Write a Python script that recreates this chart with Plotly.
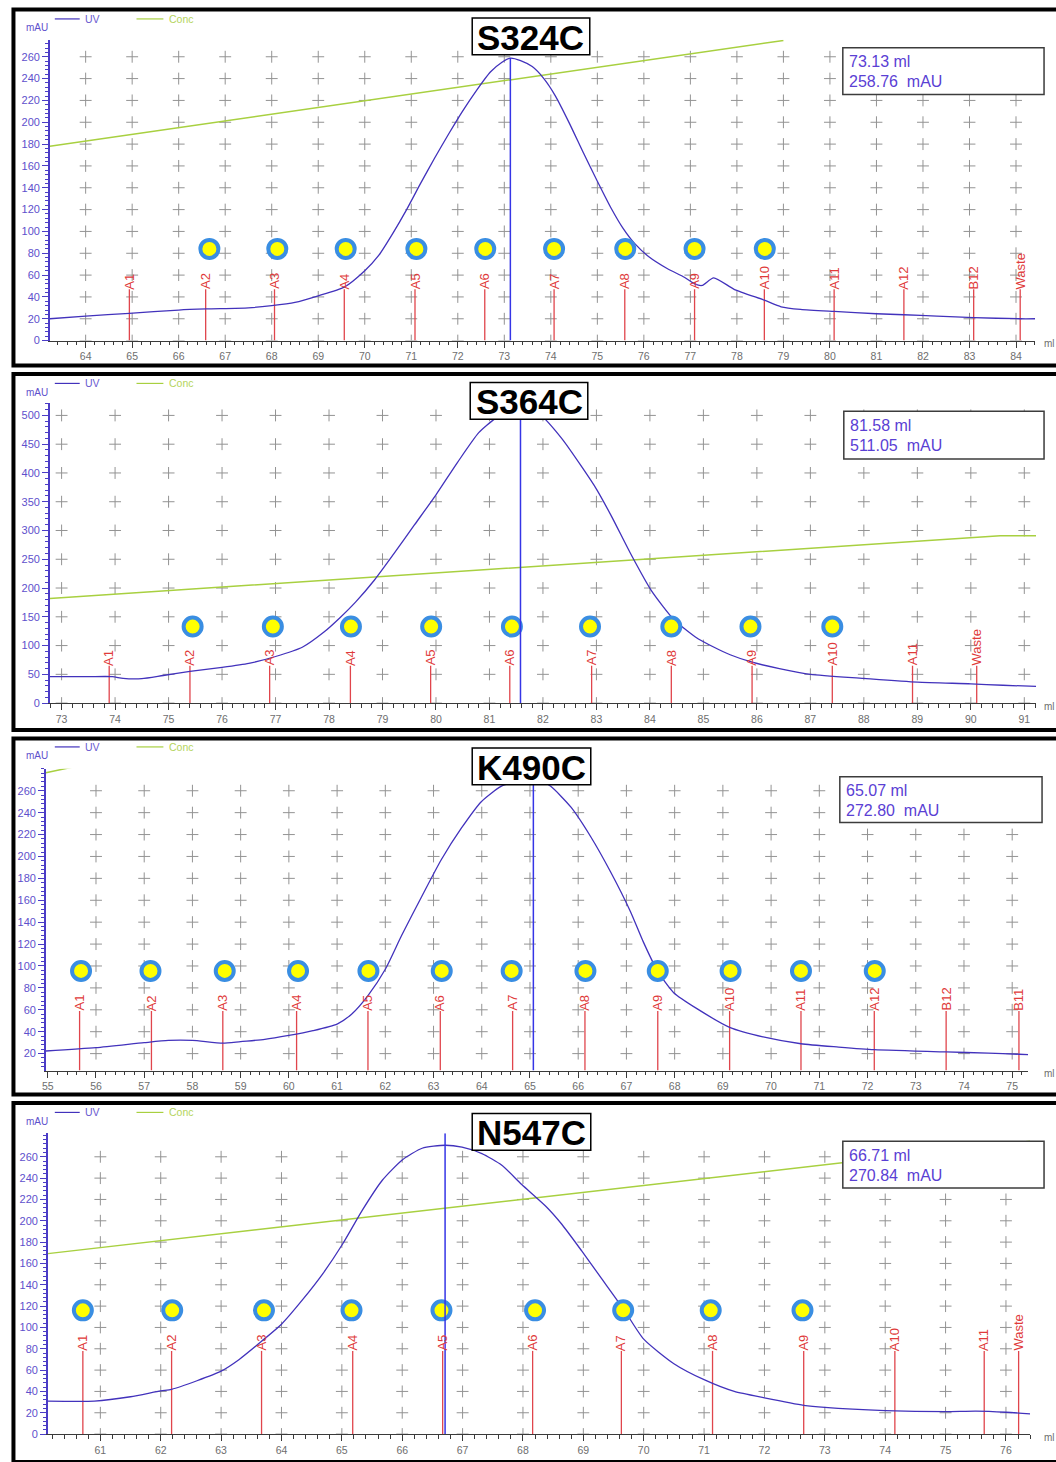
import plotly.graph_objects as go

W, H = 1056, 1462
FONT = "Liberation Sans, Arial, sans-serif"

# ---------------- S324C ----------------
s324_uv_ml = [63.23, 64.0, 64.94, 66.0, 66.6, 67.5, 68.0, 68.5, 69.0, 69.56, 70.0, 70.3, 70.6, 70.9,
              71.2, 71.5, 71.8, 72.1, 72.4, 72.7, 72.95, 73.13, 73.35, 73.6, 73.85, 74.1, 74.4, 74.7,
              75.0, 75.3, 75.55, 75.8, 76.1, 76.5, 76.87, 77.09, 77.25, 77.5, 77.94, 78.59, 78.95,
              79.37, 80.09, 81.0, 81.59, 82.3, 83.09, 84.09, 84.41]
s324_uv_mau = [20, 22.5, 25, 28, 29, 30, 32, 35, 41, 49, 64, 78, 98, 120,
               144, 167, 189, 210, 229, 246, 255, 258.76, 256.5, 251, 240, 224, 199, 172,
               146, 121, 103, 89, 77, 66, 58, 52, 50.5, 57.5, 47, 37, 31,
               28.6, 26.7, 24.6, 23.7, 22.5, 21, 20, 20]
s324_conc_ml = [63.23, 79.0]
s324_conc = [178, 275]
s324_frac_ml = [64.94, 66.58, 68.06, 69.56, 71.08, 72.58, 74.07, 75.59, 77.09, 78.59, 80.09, 81.59, 83.09, 84.09]
s324_frac = ["A1", "A2", "A3", "A4", "A5", "A6", "A7", "A8", "A9", "A10", "A11", "A12", "B12", "Waste"]
s324_pool_ml = [66.66, 68.12, 69.59, 71.11, 72.59, 74.07, 75.6, 77.09, 78.6]
s324_pool_mau = 84
s324_peak = (73.13, 258.76)

# ---------------- S364C ----------------
s364_uv_ml = [72.78, 73.5, 73.95, 74.15, 74.5, 74.9, 75.4, 76.0, 76.5, 77.0, 77.5, 77.9, 78.2, 78.5,
              78.85, 79.2, 79.6, 80.0, 80.4, 80.8, 81.1, 81.35, 81.58, 81.98, 82.35, 82.73, 83.0, 83.28,
              83.66, 84.03, 84.45, 84.85, 85.2, 85.5, 85.91, 86.42, 87.0, 88.0, 89.0, 90.0, 90.6, 91.22]
s364_uv_mau = [46, 46, 46, 43, 42.5, 48, 55, 62, 69, 81, 97, 123, 148, 176,
               214, 258, 310, 362, 418, 470, 494, 506, 511.05, 498, 460, 410, 372, 325,
               256, 195, 145, 115, 97, 84, 71, 60, 50, 43, 36.5, 33.5, 31, 29]
s364_conc_ml = [72.78, 90.55, 91.22]
s364_conc = [182, 291, 291]
s364_frac_ml = [73.89, 75.40, 76.89, 78.40, 79.90, 81.38, 82.91, 84.40, 85.91, 87.41, 88.91, 90.11]
s364_frac = ["A1", "A2", "A3", "A4", "A5", "A6", "A7", "A8", "A9", "A10", "A11", "Waste"]
s364_pool_ml = [75.45, 76.95, 78.41, 79.91, 81.42, 82.88, 84.4, 85.88, 87.41]
s364_pool_mau = 133
s364_peak = (81.58, 511.05)

# ---------------- K490C ----------------
k490_uv_ml = [54.96, 56.0, 57.0, 57.5, 58.0, 58.63, 59.0, 59.5, 60.0, 60.5, 61.0, 61.3, 61.64, 62.0,
              62.34, 62.75, 63.16, 63.58, 63.99, 64.4, 64.81, 65.07, 65.43, 65.85, 66.26, 66.67,
              67.08, 67.35, 67.65, 67.98, 68.47, 69.14, 69.86, 70.62, 71.4, 72.14, 73.63, 74.5,
              75.14, 75.33]
k490_uv_mau = [22.4, 25.4, 30, 32, 32, 29.5, 31, 33, 36.6, 41, 47, 56, 73, 97,
               128, 163, 197, 226, 250, 264, 270, 272.8, 264, 245, 218, 186,
               150, 122, 95, 75.6, 60.8, 44, 35, 29, 26, 23.6, 21.5, 20.5,
               19.4, 19]
k490_conc_ml = [54.96, 56.0]
k490_conc = [276.5, 286]
k490_frac_ml = [55.66, 57.15, 58.63, 60.16, 61.64, 63.14, 64.64, 66.14, 67.65, 69.14, 70.62, 72.14, 73.63, 75.14]
k490_frac = ["A1", "A2", "A3", "A4", "A5", "A6", "A7", "A8", "A9", "A10", "A11", "A12", "B12", "B11"]
k490_pool_ml = [55.69, 57.13, 58.67, 60.19, 61.65, 63.17, 64.62, 66.15, 67.65, 69.16, 70.62, 72.15]
k490_pool_mau = 95.5
k490_peak = (65.07, 272.80)

# ---------------- N547C ----------------
n547_uv_ml = [60.13, 60.9, 61.5, 62.0, 62.18, 62.6, 63.0, 63.3, 63.67, 64.0, 64.35, 64.68, 65.01,
              65.34, 65.67, 66.0, 66.33, 66.71, 66.99, 67.32, 67.65, 67.98, 68.39, 68.64, 68.97,
              69.3, 69.68, 70.0, 70.5, 71.0, 71.5, 72.0, 72.65, 73.0, 74.0, 75.0, 75.5, 76.0, 76.4]
n547_uv_mau = [31, 31, 35, 40.5, 42, 50, 59, 70, 87, 103, 126, 150, 178,
               210, 238, 257, 268, 270.84, 269, 263, 252, 234, 213, 197, 172,
               146, 116, 89, 66, 51, 40, 34, 27, 25, 22, 21, 21.5, 20.5, 19]
n547_conc_ml = [60.13, 76.4]
n547_conc = [169.2, 274.6]
n547_frac_ml = [60.71, 62.18, 63.67, 65.18, 66.67, 68.16, 69.63, 71.14, 72.65, 74.16, 75.64, 76.21]
n547_frac = ["A1", "A2", "A3", "A4", "A5", "A6", "A7", "A8", "A9", "A10", "A11", "Waste"]
n547_pool_ml = [60.71, 62.19, 63.71, 65.16, 66.65, 68.2, 69.66, 71.11, 72.63]
n547_pool_mau = 116
n547_peak = (66.71, 270.84)

# ---------------- styling ----------------
UV_COLOR = "#4232bc"
CONC_COLOR = "#a8d040"
FRAC_COLOR = "#e0454c"
FRAC_TEXT = "#e03a3a"
CURSOR_COLOR = "#3535e6"
YAX_COLOR = "#4b3cc6"
YTXT_COLOR = "#5e50cc"
XTXT_COLOR = "#6e6e6e"
INFO_COLOR = "#5a40d4"

# page layout of each chromatogram panel (pixels)
panels = [
    dict(name="S324C", uv=(s324_uv_ml, s324_uv_mau), conc=(s324_conc_ml, s324_conc),
         frac=(s324_frac_ml, s324_frac), pool=(s324_pool_ml, s324_pool_mau), peak=s324_peak,
         cursor_top=s324_peak[1], frac_top=47,
         border=(9.5, 9.5, 1062, 367), plot=(46, 40, 1035, 342), xr=(63.23, 84.41), yr=(0, 275.5),
         ydt=20, ymin=4, ygrid_max=260, info=(842, 48, 1044, 95), title=(470, 18, 588, 55), legend_y=19),
    dict(name="S364C", uv=(s364_uv_ml, s364_uv_mau), conc=(s364_conc_ml, s364_conc),
         frac=(s364_frac_ml, s364_frac), pool=(s364_pool_ml, s364_pool_mau), peak=s364_peak,
         cursor_top=s364_peak[1], frac_top=65,
         border=(9.5, 375.5, 1062, 733), plot=(46, 405, 1036, 706), xr=(72.78, 91.22), yr=(0, 521),
         ydt=50, ymin=10, ygrid_max=500, info=(843, 413, 1044, 461), title=(468, 384, 586, 421), legend_y=385),
    dict(name="K490C", uv=(k490_uv_ml, k490_uv_mau), conc=(k490_conc_ml, k490_conc),
         frac=(k490_frac_ml, k490_frac), pool=(k490_pool_ml, k490_pool_mau), peak=k490_peak,
         cursor_top=k490_peak[1], frac_top=59,
         border=(9.5, 741.5, 1062, 1099), plot=(42, 772, 1028, 1075), xr=(54.96, 75.33), yr=(4.5, 280),
         ydt=20, ymin=4, ygrid_max=260, info=(839, 780, 1042, 826), title=(470, 751, 589, 788), legend_y=750),
    dict(name="N547C", uv=(n547_uv_ml, n547_uv_mau), conc=(n547_conc_ml, n547_conc),
         frac=(n547_frac_ml, n547_frac), pool=(n547_pool_ml, n547_pool_mau), peak=n547_peak,
         cursor_top=282, frac_top=78,
         border=(9.5, 1107.5, 1062, 1468), plot=(44, 1138, 1030, 1440), xr=(60.13, 76.40), yr=(0, 282),
         ydt=20, ymin=4, ygrid_max=260, info=(842, 1146, 1044, 1193), title=(470, 1118, 589, 1155), legend_y=1117),
]


def px(x):
    return x / W


def py(y):
    return 1 - y / H


fig = go.Figure()
shapes, annotations = [], []
layout_axes = {}

for i, p in enumerate(panels, start=1):
    sfx = "" if i == 1 else str(i)
    xa, ya = "x" + sfx, "y" + sfx
    x0, y0, x1, y1 = p["plot"]
    xr, yr = p["xr"], p["yr"]

    # y tick values shown on the axis (major steps up to the last gridded row)
    yticks = [v for v in range(0, p["ygrid_max"] + 1, p["ydt"]) if v >= yr[0]]
    xcols = [m for m in range(int(xr[0]) + 1, int(xr[1]) + 1) if m - xr[0] > 0.15]

    # "+" grid crosses at every ml and every major mAU step
    gx = [m for v in yticks for m in xcols]
    gy = [v for v in yticks for m in xcols]
    fig.add_trace(go.Scatter(x=gx, y=gy, mode="markers", xaxis=xa, yaxis=ya, hoverinfo="skip",
                             marker=dict(symbol="cross-thin", size=8.5, line=dict(color="#939393", width=1)),
                             showlegend=False))

    # Conc gradient
    fig.add_trace(go.Scatter(x=p["conc"][0], y=p["conc"][1], mode="lines", xaxis=xa, yaxis=ya,
                             line=dict(color=CONC_COLOR, width=1.5), hoverinfo="skip", showlegend=False))

    # fraction marks
    fx, fy = [], []
    for m in p["frac"][0]:
        fx += [m, m, None]
        fy += [yr[0], p["frac_top"], None]
    fig.add_trace(go.Scatter(x=fx, y=fy, mode="lines", xaxis=xa, yaxis=ya,
                             line=dict(color=FRAC_COLOR, width=1.3), hoverinfo="skip", showlegend=False))
    for m, lbl in zip(*p["frac"]):
        annotations.append(dict(x=m, y=p["frac_top"], xref=xa, yref=ya, text=lbl, showarrow=False,
                                textangle=-90, xanchor="center", yanchor="bottom", yshift=-2,
                                font=dict(family=FONT, size=13, color=FRAC_TEXT)))

    # UV absorbance
    fig.add_trace(go.Scatter(x=p["uv"][0], y=p["uv"][1], mode="lines", xaxis=xa, yaxis=ya,
                             line=dict(color=UV_COLOR, width=1.3, shape="spline", smoothing=0.6),
                             hoverinfo="skip", showlegend=False))

    # pooled fractions
    pm = p["pool"][0]
    fig.add_trace(go.Scatter(x=pm, y=[p["pool"][1]] * len(pm), mode="markers", xaxis=xa, yaxis=ya,
                             marker=dict(symbol="circle", size=18, color="#ffff00",
                                         line=dict(color="#3a8ee2", width=4)),
                             hoverinfo="skip", showlegend=False))

    # peak cursor
    pk_ml, pk_mau = p["peak"]
    fig.add_trace(go.Scatter(x=[pk_ml, pk_ml], y=[yr[0], p["cursor_top"]], mode="lines", xaxis=xa, yaxis=ya,
                             line=dict(color=CURSOR_COLOR, width=1.5), hoverinfo="skip", showlegend=False))

    layout_axes["xaxis" + sfx] = dict(
        domain=[px(x0), px(x1)], range=list(xr), anchor=ya, showgrid=False, zeroline=False,
        showline=True, linecolor="#3a3a3a", linewidth=1, ticks="outside", ticklen=6, tickwidth=1,
        tickcolor="#3a3a3a", dtick=1, tick0=0, tickfont=dict(family=FONT, size=10.5, color=XTXT_COLOR),
        minor=dict(dtick=0.2, tick0=0, ticks="outside", ticklen=3.5, tickcolor="#3a3a3a", tickwidth=1,
                   showgrid=False),
        fixedrange=True)
    layout_axes["yaxis" + sfx] = dict(
        domain=[py(y1), py(y0)], range=list(yr), anchor=xa, showgrid=False, zeroline=False,
        showline=True, linecolor=YAX_COLOR, linewidth=1.5, ticks="outside", ticklen=6, tickwidth=1,
        tickcolor=YAX_COLOR, tickmode="array", tickvals=yticks,
        tickfont=dict(family=FONT, size=11, color=YTXT_COLOR),
        minor=dict(dtick=p["ymin"], tick0=0, ticks="outside", ticklen=3, tickcolor=YAX_COLOR, tickwidth=1,
                   showgrid=False),
        fixedrange=True)

    # panel frame
    bx0, by0, bx1, by1 = p["border"]
    shapes.append(dict(type="rect", xref="paper", yref="paper", x0=px(bx0), x1=px(bx1), y0=py(by1), y1=py(by0),
                       line=dict(color="#000000", width=4), fillcolor="rgba(0,0,0,0)", layer="above"))

    # legend header
    ly = p["legend_y"]
    shapes.append(dict(type="line", xref="paper", yref="paper", x0=px(51), x1=px(76), y0=py(ly), y1=py(ly),
                       line=dict(color=UV_COLOR, width=1.2), layer="above"))
    shapes.append(dict(type="line", xref="paper", yref="paper", x0=px(133), x1=px(160), y0=py(ly), y1=py(ly),
                       line=dict(color=CONC_COLOR, width=1.2), layer="above"))
    annotations.append(dict(x=px(79), y=py(ly), xref="paper", yref="paper", text="UV", showarrow=False,
                            xanchor="left", yanchor="middle", font=dict(family=FONT, size=10.5, color="#6a5ad0")))
    annotations.append(dict(x=px(164), y=py(ly), xref="paper", yref="paper", text="Conc", showarrow=False,
                            xanchor="left", yanchor="middle", font=dict(family=FONT, size=10.5, color="#b4d45c")))
    annotations.append(dict(x=px(33), y=py(ly + 9), xref="paper", yref="paper", text="mAU", showarrow=False,
                            xanchor="center", yanchor="middle", font=dict(family=FONT, size=10, color=YTXT_COLOR)))
    annotations.append(dict(x=px(1042), y=py(y1 + 3), xref="paper", yref="paper", text="ml", showarrow=False,
                            xanchor="left", yanchor="middle", font=dict(family=FONT, size=10, color=XTXT_COLOR)))

    # peak readout box
    ix0, iy0, ix1, iy1 = p["info"]
    shapes.append(dict(type="rect", xref="paper", yref="paper", x0=px(ix0), x1=px(ix1), y0=py(iy1), y1=py(iy0),
                       line=dict(color="#3c3c3c", width=1.5), fillcolor="#ffffff", layer="above"))
    annotations.append(dict(x=px(ix0 + 4), y=py(iy0 + 14), xref="paper", yref="paper",
                            text=f"{pk_ml:.2f} ml", showarrow=False, xanchor="left", yanchor="middle",
                            font=dict(family=FONT, size=16, color=INFO_COLOR)))
    annotations.append(dict(x=px(ix0 + 4), y=py(iy0 + 34), xref="paper", yref="paper",
                            text=f"{pk_mau:.2f}&nbsp;&nbsp;mAU", showarrow=False, xanchor="left",
                            yanchor="middle", font=dict(family=FONT, size=16, color=INFO_COLOR)))

    # construct name
    tx0, ty0, tx1, ty1 = p["title"]
    shapes.append(dict(type="rect", xref="paper", yref="paper", x0=px(tx0), x1=px(tx1), y0=py(ty1), y1=py(ty0),
                       line=dict(color="#000000", width=1.5), fillcolor="#ffffff", layer="above"))
    annotations.append(dict(x=px((tx0 + tx1) / 2), y=py((ty0 + ty1) / 2 + 1), xref="paper", yref="paper",
                            text=f"<b>{p['name']}</b>", showarrow=False, xanchor="center", yanchor="middle",
                            font=dict(family=FONT, size=35, color="#000000")))

fig.update_layout(
    width=W, height=H, autosize=False,
    margin=dict(l=0, r=0, t=0, b=0),
    paper_bgcolor="#ffffff", plot_bgcolor="#ffffff",
    showlegend=False, shapes=shapes, annotations=annotations,
    **layout_axes,
)

# the figure fills the page exactly
fig.write_html("out.html", post_script="document.body.style.margin='0';document.body.style.overflow='hidden';")
